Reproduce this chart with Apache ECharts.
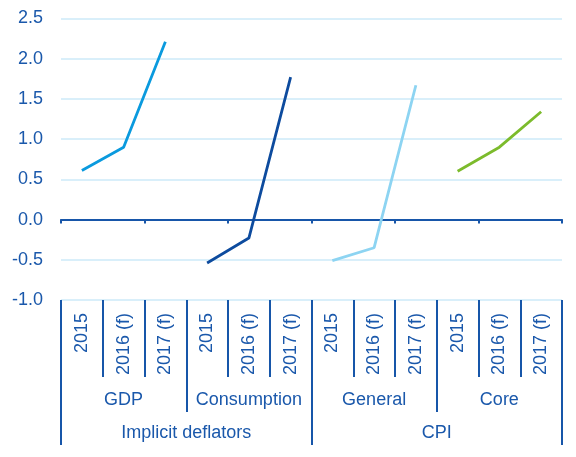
<!DOCTYPE html>
<html><head><meta charset="utf-8">
<script src="https://cdn.jsdelivr.net/npm/echarts@6/dist/echarts.min.js"></script>
<style>html,body{margin:0;padding:0;background:#fff}#c{width:576px;height:457px}</style>
</head><body><div id="c"></div>
<script>
var years = ['2015','2016 (f)','2017 (f)','2015','2016 (f)','2017 (f)','2015','2016 (f)','2017 (f)','2015','2016 (f)','2017 (f)'];
var subGroups = ['GDP','Consumption','General','Core'];
var groups = ['Implicit deflators','CPI'];
var seriesNames = ['GDP','Consumption','General','Core'];
var gdp = [0.61, 0.90, 2.21, null, null, null, null, null, null, null, null, null];
var consumption = [null, null, null, -0.54, -0.23, 1.77, null, null, null, null, null, null];
var general = [null, null, null, null, null, null, -0.51, -0.35, 1.67, null, null, null];
var core = [null, null, null, null, null, null, null, null, null, 0.60, 0.90, 1.34];
var yTicks = {min: -1.0, max: 2.5, interval: 0.5};

var axisColor = '#1756a9';
var textColor = '#1a58ab';
var font = 'Liberation Sans, Arial, sans-serif';
var fs = 18;
var colors = ['#0a9ade', '#0d4b9e', '#8dd4f2', '#7cbb2c'];
var dataArr = [gdp, consumption, general, core];

var chart = echarts.init(document.getElementById('c'), null, {renderer: 'canvas'});
var xBase = {type: 'category', boundaryGap: true, position: 'bottom'};
chart.setOption({
  animation: false,
  grid: {left: 61, right: 14, top: 18.5, bottom: 157, containLabel: false},
  yAxis: {
    type: 'value', min: yTicks.min, max: yTicks.max, interval: yTicks.interval,
    axisLine: {show: false}, axisTick: {show: false},
    axisLabel: {color: textColor, fontSize: fs, fontFamily: font, margin: 18,
      formatter: function (v) { return v.toFixed(1); }},
    splitLine: {lineStyle: {color: '#cdeaf8', width: 1.5}}
  },
  xAxis: [
    Object.assign({}, xBase, {
      data: years,
      axisLine: {onZero: true, lineStyle: {color: axisColor, width: 2}},
      axisTick: {show: true, length: 4, inside: false, lineStyle: {color: axisColor, width: 2}},
      axisLabel: {show: false}
    }),
    Object.assign({}, xBase, {
      data: years, offset: 0,
      axisLine: {onZero: false, show: false},
      axisTick: {show: true, length: 77, lineStyle: {color: axisColor, width: 2}},
      axisLabel: {show: true, rotate: 90, interval: 0, margin: 13, color: textColor, fontSize: fs, fontFamily: font}
    }),
    Object.assign({}, xBase, {
      data: subGroups, offset: 77,
      axisLine: {onZero: false, show: false},
      axisTick: {show: true, length: 35, lineStyle: {color: axisColor, width: 2}},
      axisLabel: {show: true, interval: 0, margin: 14, color: textColor, fontSize: fs, fontFamily: font}
    }),
    Object.assign({}, xBase, {
      data: groups, offset: 112,
      axisLine: {onZero: false, show: false},
      axisTick: {show: true, length: 33, lineStyle: {color: axisColor, width: 2}},
      axisLabel: {show: true, interval: 0, margin: 12, color: textColor, fontSize: fs, fontFamily: font}
    })
  ],
  series: seriesNames.map(function (n, i) {
    return {name: n, type: 'line', xAxisIndex: 0, data: dataArr[i], showSymbol: false,
      symbol: 'none', connectNulls: false, z: 5,
      lineStyle: {color: colors[i], width: 2.8}};
  })
});
</script></body></html>
